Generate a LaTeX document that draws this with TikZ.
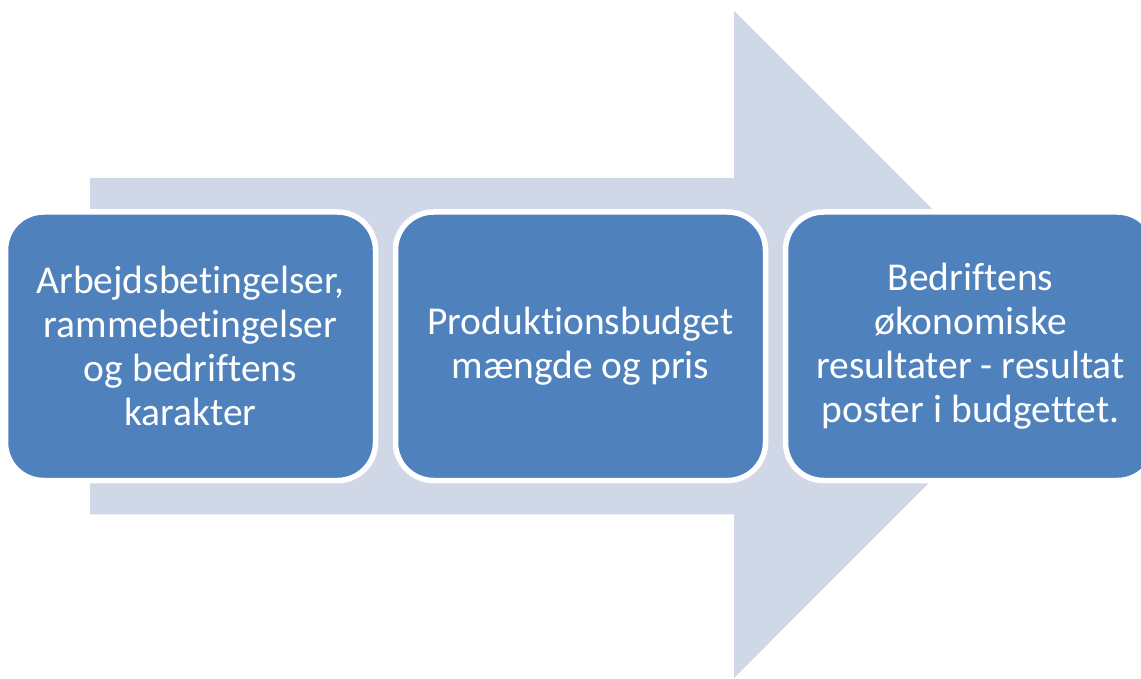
\documentclass[tikz,border=0pt]{standalone}
\usepackage{fontspec}
\setmainfont{Carlito}[Ligatures=NoCommon]
\usetikzlibrary{positioning}
\definecolor{arrowgray}{HTML}{D0D8E8}
\definecolor{boxblue}{HTML}{4F81BD}
\tikzset{
    stage/.style ={rectangle, rounded corners=19pt, draw=white, line width=2.75pt,
        fill=boxblue, text=white, minimum width=185pt, minimum height=134.25pt,
        outer sep=0pt, align=center, font=\fontsize{19.75}{21.95}\selectfont}
}

\begin{document}
\begin{tikzpicture}[x=0.5pt,y=-0.5pt]
    \useasboundingbox (0,0) rectangle (1141,679);
    \clip (0,0) rectangle (1141,679);

    %%Arrow
    \fill[arrowgray] (90,178) -- (734,178) -- (734,10.7) -- (1067.6,344.3)
        -- (734,678) -- (734,514.3) -- (90,514.3) -- cycle;

    %%Nodes
    \node[stage] (b1) at (190.5,346.25) {Arbejdsbetingelser,\\rammebetingelser\\og bedriftens\\karakter};
    \node[stage] (b2) [right =10pt of b1] {Produktionsbudget\\mængde og pris};
    \node[stage] (b3) [right =10pt of b2] {Bedriftens\\økonomiske\\resultater - resultat\\poster i budgettet.};
\end{tikzpicture}
\end{document}
